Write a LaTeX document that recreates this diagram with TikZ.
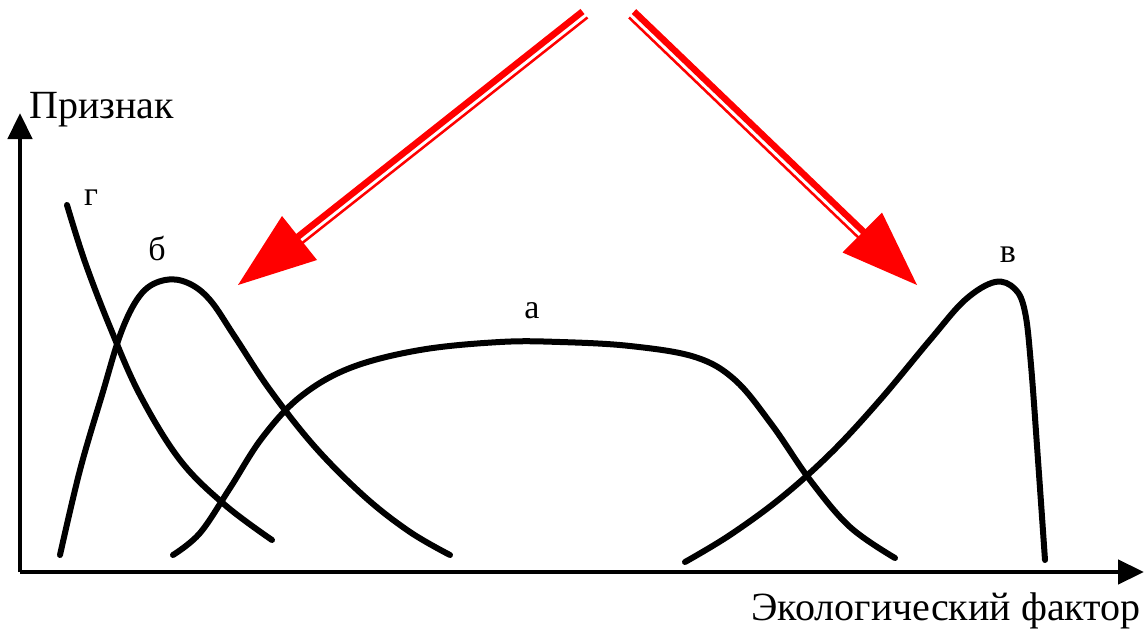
\documentclass[tikz,border=0pt]{standalone}
\usepackage{fontspec}
\setmainfont{Liberation Serif}
\usetikzlibrary{arrows.meta}
\begin{document}
\begin{tikzpicture}[x=1pt,y=-1pt,
  axis/.style={line width=4.5pt,line join=round,-{Triangle[length=26pt,width=24pt]}},
  curve/.style={line width=6pt,line cap=round,line join=round},
  redthick/.style={red,line width=6.5pt},
  redthin/.style={red,line width=2.5pt},
  bigtxt/.style={inner sep=0pt,font=\fontsize{40}{44}\selectfont},
  lbl/.style={inner sep=0pt,font=\fontsize{34}{38}\selectfont}]
\useasboundingbox (0,0) rectangle (1144,629);
% axes
\coordinate (O) at (20,572);
\coordinate (Ytop) at (20,113);
\coordinate (Xend) at (1144,572);
\draw[axis] (O) -- (Ytop);
\draw[axis] (O) -- (Xend);
\node[bigtxt,anchor=base west] (ylab) at (29,118) {Признак};
\node[bigtxt,anchor=base east] (xlab) at (1141,620) {Экологический фактор};
% curves
\draw[curve] plot[smooth,tension=0.6] coordinates {(67,205) (85,262) (110,327) (140,395) (180,460) (225,505) (272,540)};
\draw[curve] plot[smooth,tension=0.6] coordinates {(60,555) (80,470) (102,395) (122,330) (142,293) (165,280) (188,283) (210,300) (235,337) (270,390) (315,447) (365,497) (410,532) (450,555)};
\draw[curve] plot[smooth,tension=0.6] coordinates {(173,555) (200,533) (230,488) (262,438) (300,397) (350,368) (420,350) (500,342) (560,342) (630,346) (695,357) (735,380) (772,425) (810,480) (850,527) (895,558)};
\draw[curve] plot[smooth,tension=0.6] coordinates {(685,562) (730,535) (782,497) (832,452) (880,400) (930,340) (965,300) (995,282) (1015,289) (1025,312) (1031,365) (1038,460) (1045,560)};
% labels
\node[lbl,anchor=base] (g) at (91,205) {г};
\node[lbl,anchor=base] (b) at (157,260) {б};
\node[lbl,anchor=base] (a) at (532,318) {а};
\node[lbl,anchor=base] (v) at (1008,262) {в};
% red arrows
\coordinate (L1) at (582.5,11.5); \coordinate (L2) at (290,243);
\coordinate (L3) at (587.5,17.5); \coordinate (L4) at (296,248);
\coordinate (LT) at (238,285); \coordinate (LC1) at (317,260); \coordinate (LC2) at (282,216);
\draw[redthick] (L1) -- (L2);
\draw[redthin] (L3) -- (L4);
\fill[red] (LT) -- (LC1) -- (LC2) -- cycle;
\coordinate (R1) at (634,11.5); \coordinate (R2) at (868,236);
\coordinate (R3) at (629,17.5); \coordinate (R4) at (862,241);
\coordinate (RT) at (917,285); \coordinate (RC1) at (842.5,252.5); \coordinate (RC2) at (882,212.5);
\draw[redthick] (R1) -- (R2);
\draw[redthin] (R3) -- (R4);
\fill[red] (RT) -- (RC1) -- (RC2) -- cycle;
\end{tikzpicture}
\end{document}
